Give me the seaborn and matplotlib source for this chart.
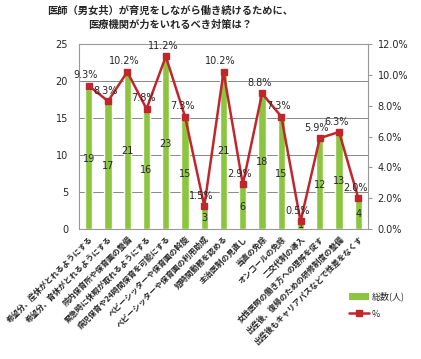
import pandas as pd
import numpy as np
import matplotlib
matplotlib.use('Agg')
import matplotlib.pyplot as plt
import seaborn as sns
from matplotlib.lines import Line2D
from matplotlib.patches import Patch

# DATA
categories = [
    '希望分、産休がとれるようにする',
    '希望分、育休がとれるようにする',
    '院内保育所や保育園の整備',
    '緊急時に休暇が取れるようにする',
    '病児保育や24時間保育を可能にする',
    'ベビーシッターや保育園の斡旋',
    'ベビーシッターや保育園の利用助成',
    '短時間勤務を認める',
    '主治医制の見直し',
    '当直の免除',
    'オンコールの免除',
    '二交代制の導入',
    '女性医師の働き方への理解を促す',
    '出産後、復帰のための研修制度の整備',
    '出産後もキャリアパスなどで性差をなくす',
]
counts = [19, 17, 21, 16, 23, 15, 3, 21, 6, 18, 15, 1, 12, 13, 4]
percents = [9.3, 8.3, 10.2, 7.8, 11.2, 7.3, 1.5, 10.2, 2.9, 8.8, 7.3, 0.5, 5.9, 6.3, 2.0]

title = '医師（男女共）が育児をしながら働き続けるために、\n医療機関が力をいれるべき対策は？'

sns.set_style('white')
plt.rcParams['font.family'] = ['Noto Sans CJK JP', 'DejaVu Sans']

bar_color = '#8cc63e'
line_color = '#c0272d'

data = pd.DataFrame({'cat': categories, 'count': counts, 'pct': percents})

fig = plt.figure(figsize=(4.21, 3.59), dpi=100)
ax = fig.add_axes([0.188, 0.362, 0.686, 0.515])

sns.barplot(data=data, x='cat', y='count', color=bar_color, width=0.38,
            saturation=1, ax=ax)
ax.set_ylim(0, 25)
ax.set_yticks(range(0, 26, 5))
ax.yaxis.grid(True, color='#888888', linewidth=0.7)
ax.set_axisbelow(True)
ax.set_xlabel('')
ax.set_ylabel('')
for s in ax.spines.values():
    s.set_color('#999999')
    s.set_linewidth(0.8)
ax.tick_params(axis='y', labelsize=7, length=0, pad=8)
ax.tick_params(axis='x', length=0, pad=4)
ax.set_xticks(range(len(categories)))
ax.set_xticklabels(categories, rotation=45, ha='right', rotation_mode='anchor',
                   fontsize=5.7, fontweight='bold')
for lab in ax.get_yticklabels():
    lab.set_family('DejaVu Sans')

# count labels in middle of bars
for i, c in enumerate(counts):
    ax.text(i, c / 2, str(c), ha='center', va='center', fontsize=7,
            family='DejaVu Sans')

# PERCENT LINE
ax2 = ax.twinx()
ax2.plot(range(len(percents)), percents, color=line_color, linewidth=1.8,
         marker='s', markersize=5, markerfacecolor=line_color,
         markeredgecolor=line_color, zorder=3)
ax2.set_ylim(0, 12)
ax2.set_yticks(np.arange(0, 12.1, 2))
ax2.set_yticklabels([f'{v:.1f}%' for v in np.arange(0, 12.1, 2)],
                    fontsize=7, family='DejaVu Sans')
ax2.tick_params(axis='y', length=3, color='#999999', pad=4)
for s in ax2.spines.values():
    s.set_visible(False)
ax.set_xlim(-0.5, len(categories) - 0.5)

for i, p in enumerate(percents):
    ax2.text(i - 0.15, p + 0.35, f'{p:.1f}%', ha='center', va='bottom', fontsize=7,
             family='DejaVu Sans')

fig.text(0.405, 0.985, title, ha='center', va='top', fontsize=7.4,
         fontweight='bold', linespacing=1.45)

handles = [Patch(facecolor=bar_color, edgecolor='none'),
           Line2D([], [], color=line_color, marker='s', markersize=4, linewidth=1.8)]
fig.legend(handles, ['総数(人)', '%'], loc='upper left',
           bbox_to_anchor=(0.81, 0.21), frameon=False, fontsize=6.5,
           handlelength=2.2, handleheight=0.8, labelspacing=0.9,
           handletextpad=0.3)

fig.savefig('out.png', dpi=100)
